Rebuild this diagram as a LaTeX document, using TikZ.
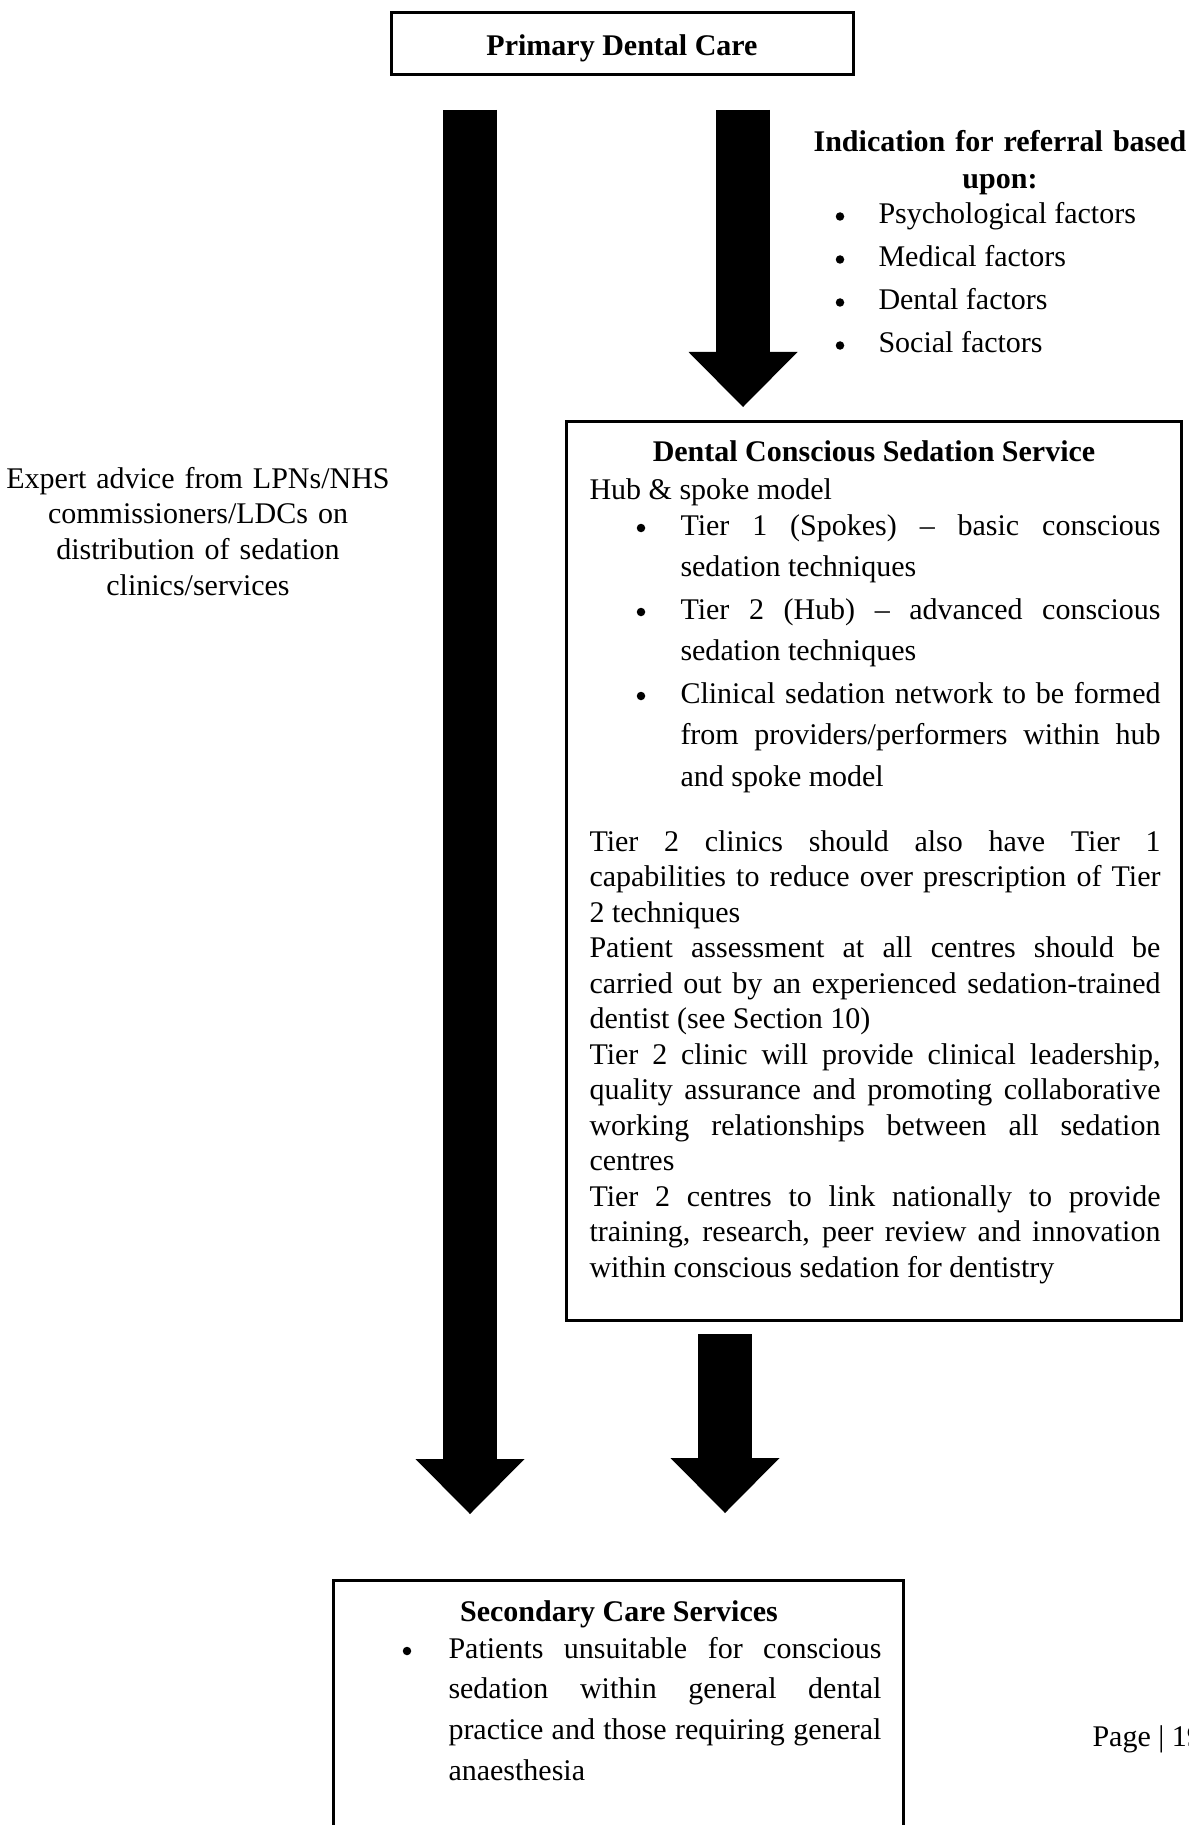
\documentclass[tikz,border=0pt]{standalone}
\usepackage{fontspec}
\setmainfont{Liberation Serif}
\usetikzlibrary{arrows.meta}

\tikzset{
  box/.style={draw, line width=1.2pt, inner sep=0pt},
  txt/.style={inner sep=0pt, anchor=base west, font=\fontsize{12pt}{14.2pt}\selectfont},
  para/.style={txt, text width=#1, align=justify},
  loose/.style={font=\fontsize{12pt}{#1}\selectfont},
  bul/.style={circle, fill, inner sep=0pt, minimum size=3.4pt, yshift=2.8pt},
  head/.style={inner sep=0pt, anchor=base, font=\fontsize{12pt}{14.8pt}\selectfont\bfseries},
  bigarrow/.style={line width=21.6pt, -{Triangle[length=22pt, width=43.6pt, line width=0pt]}},
}

\begin{document}
\begin{tikzpicture}[x=0.4pt, y=-0.4pt]
\useasboundingbox (0,0) rectangle (1188,1825);

% boxes
\node [box, minimum width=184.8pt, minimum height=24.8pt, text height=9.6pt, text depth=0pt,
       font=\fontsize{12pt}{14pt}\selectfont\bfseries] (primary) at (622,43.5) {Primary Dental Care};
\node [box, minimum width=246pt, minimum height=359.2pt] (sedation) at (873.5,871) {};
\node [box, minimum width=228pt, minimum height=104pt] (secondary) at (618,1710) {};

% block arrows
\coordinate (left top) at (470,110);
\coordinate (left tip) at (470,1514);
\coordinate (mid top) at (743,110);
\coordinate (mid tip) at (743,407);
\coordinate (low top) at (725,1334);
\coordinate (low tip) at (725,1513);
\draw [bigarrow] (left top) -- (left tip);
\draw [bigarrow] (mid top) -- (mid tip);
\draw [bigarrow] (low top) -- (low tip);

% referral indications
\node [head, text width=170pt, align=center] (indic) at (1000,151.5) {Indication for referral based\\upon:};
\foreach \f [count=\i] in {Psychological factors, Medical factors, Dental factors, Social factors}{
  \node [bul] (ib\i) at (840,{180.5+43*\i}) {};
  \node [txt] (if\i) at (878,{180.5+43*\i}) {\f};
}

% expert advice
\node [txt, anchor=base, text width=170pt, align=center, loose=14.35pt] (advice) at (198,488)
  {Expert advice from LPNs/NHS\\commissioners/LDCs on\\distribution of sedation\\clinics/services};

% sedation service
\node [head] (sedtitle) at (874,461) {Dental Conscious Sedation Service};
\node [txt] (hub) at (589,499.5) {Hub \& spoke model};
\node [bul] (sb1) at (641,535) {};
\node [para=192pt, loose=16.6pt] (st1) at (680,535)
  {Tier 1 (Spokes) \textendash{} basic conscious\linebreak sedation techniques};
\node [bul] (sb2) at (641,619) {};
\node [para=192pt, loose=16.6pt] (st2) at (680,619)
  {Tier 2 (Hub) \textendash{} advanced conscious\linebreak sedation techniques};
\node [bul] (sb3) at (641,703) {};
\node [para=192pt, loose=16.6pt] (st3) at (680,703)
  {Clinical sedation network to be formed\linebreak from providers/performers within hub\linebreak and spoke model};
\node [para=228.4pt] (sedtext) at (589,851)
  {Tier 2 clinics should also have Tier 1\linebreak capabilities to reduce over prescription of Tier\linebreak 2 techniques\par
   Patient assessment at all centres should be\linebreak carried out by an experienced sedation-trained\linebreak dentist (see Section 10)\par
   Tier 2 clinic will provide clinical leadership,\linebreak quality assurance and promoting collaborative\linebreak working relationships between all sedation\linebreak centres\par
   Tier 2 centres to link nationally to provide\linebreak training, research, peer review and innovation\linebreak within conscious sedation for dentistry};

% secondary care
\node [head] (sectitle) at (619,1621) {Secondary Care Services};
\node [bul] (cb) at (407,1658) {};
\node [para=173.2pt, loose=16.3pt] (ct) at (448,1658)
  {Patients unsuitable for conscious\linebreak sedation within general dental\linebreak practice and those requiring general\linebreak anaesthesia};

\node [txt] (page) at (1092,1746) {Page | 19};
\end{tikzpicture}
\end{document}
